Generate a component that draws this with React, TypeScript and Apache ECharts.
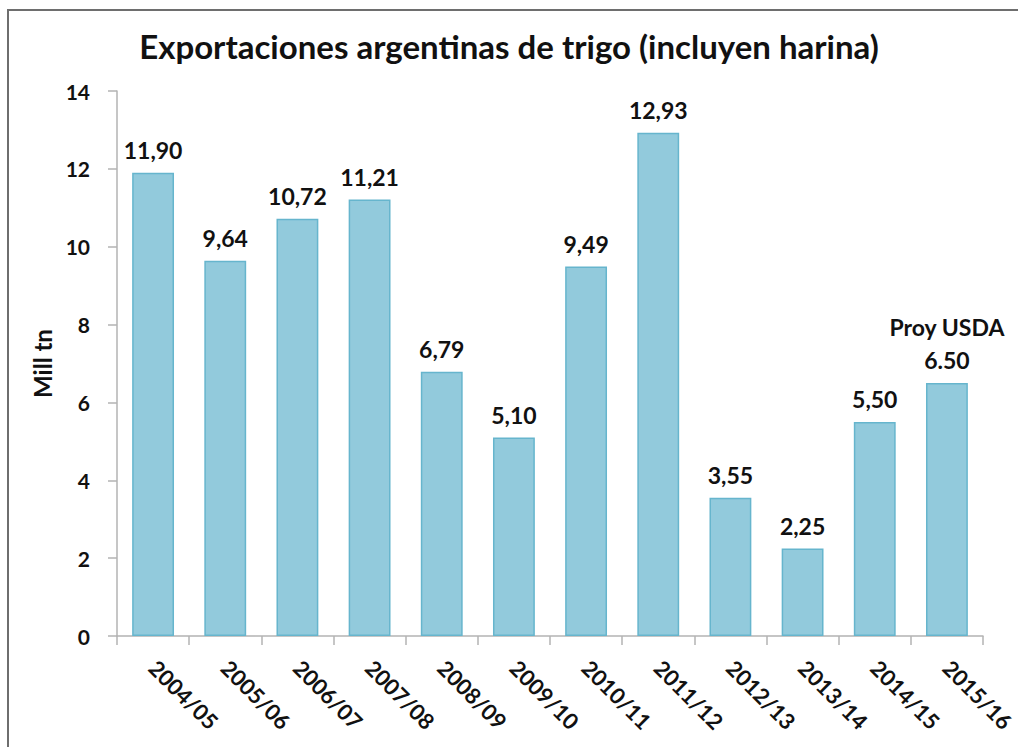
import React, { useEffect, useRef } from "react";
import * as echarts from "echarts";

const categories = ["2004/05", "2005/06", "2006/07", "2007/08", "2008/09", "2009/10", "2010/11", "2011/12", "2012/13", "2013/14", "2014/15", "2015/16"];
const values = [11.9, 9.64, 10.72, 11.21, 6.79, 5.1, 9.49, 12.93, 3.55, 2.25, 5.5, 6.5];
const valueLabels = ["11,90", "9,64", "10,72", "11,21", "6,79", "5,10", "9,49", "12,93", "3,55", "2,25", "5,50", "6.50"];
const projectionNote = "Proy USDA";
const yTicks = { min: 0, max: 14, interval: 2 };

const FONT = "Lato, 'Open Sans', sans-serif";

export default function App() {
  const ref = useRef<HTMLDivElement>(null);
  useEffect(() => {
    if (!ref.current) return;
    const chart = echarts.init(ref.current, undefined, { renderer: "svg" });
    chart.setOption({
      animation: false,
      backgroundColor: "#ffffff",
      title: {
        text: "Exportaciones argentinas de trigo (incluyen harina)",
        left: "center",
        top: 24,
        textStyle: { fontFamily: FONT, fontWeight: "bold", fontSize: 33, color: "#111111" },
      },
      graphic: [
        {
          type: "rect",
          shape: { x: 8, y: 10, width: 1030, height: 760 },
          style: { fill: "none", stroke: "#6e6e6e", lineWidth: 2 },
          silent: true,
        },
      ],
      grid: { left: 117, right: 30, top: 91, bottom: 111, containLabel: false },
      xAxis: {
        type: "category",
        data: categories,
        axisLine: { lineStyle: { color: "#b3b3b3", width: 1.5 } },
        axisTick: { show: true, length: 9, lineStyle: { color: "#b3b3b3", width: 1.5 } },
        axisLabel: {
          rotate: -45,
          margin: 28,
          fontFamily: FONT,
          fontWeight: "bold",
          fontSize: 22,
          color: "#111111",
        },
      },
      yAxis: {
        type: "value",
        min: yTicks.min,
        max: yTicks.max,
        interval: yTicks.interval,
        name: "Mill tn",
        nameLocation: "middle",
        nameGap: 63,
        nameTextStyle: { fontFamily: FONT, fontWeight: "bold", fontSize: 24, color: "#111111" },
        axisLine: { show: true, lineStyle: { color: "#b3b3b3", width: 1.5 } },
        axisTick: { show: true, length: 9, lineStyle: { color: "#b3b3b3", width: 1.5 } },
        splitLine: { show: false },
        axisLabel: {
          margin: 27,
          fontFamily: FONT,
          fontWeight: "bold",
          fontSize: 21,
          color: "#111111",
        },
      },
      series: [
        {
          type: "bar",
          data: values,
          barWidth: "58%",
          itemStyle: { color: "#92cadc", borderColor: "#66b5cd", borderWidth: 1.5 },
          label: {
            show: true,
            position: "top",
            distance: 6,
            fontFamily: FONT,
            fontWeight: "bold",
            fontSize: 23,
            color: "#111111",
            lineHeight: 33,
            formatter: (p: any) =>
              p.dataIndex === values.length - 1
                ? projectionNote + "\n" + valueLabels[p.dataIndex]
                : valueLabels[p.dataIndex],
          },
        },
      ],
    });
    return () => chart.dispose();
  }, []);
  return (
    <div
      ref={ref}
      style={{ position: "absolute", left: 0, top: 0, width: 1018, height: 747 }}
    />
  );
}
